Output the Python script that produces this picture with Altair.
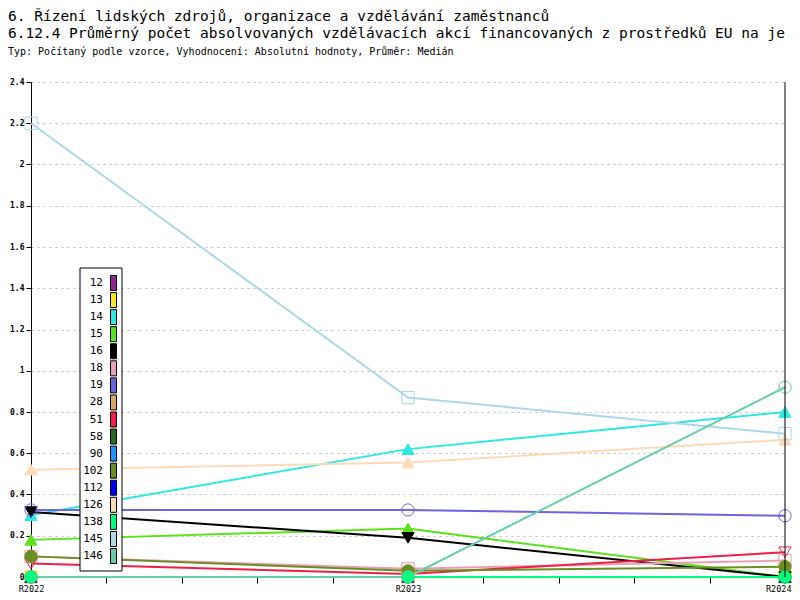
import altair as alt
import pandas as pd

# ---------------- data ----------------
years = ["R2022", "R2023", "R2024"]
series = ["12", "13", "14", "15", "16", "18", "19", "28", "51", "58",
          "90", "102", "112", "126", "138", "145", "146"]
colors = ["#912891", "#f2e81e", "#2fe8e0", "#5ce11c", "#000000", "#e8a0b4",
          "#6f63df", "#d4a862", "#f01e46", "#2a6a24", "#1e90ff", "#6b8e23",
          "#0000ff", "#ffdab9", "#00ff7f", "#add8e6", "#66cdaa"]
marker_shapes = ["diamond", "square", "triangle-up", "triangle-up", "triangle-down",
                 "square", "circle", "diamond", "triangle-down", "circle",
                 "diamond", "circle", "triangle-up", "triangle-up", "circle",
                 "square", "circle"]
marker_filled = [True, True, True, True, True, False, False, True, False, True,
                 True, True, True, True, True, False, False]

s12 = [0.0, 0.0, 0.0]
s13 = [0.0, 0.0, 0.0]
s14 = [0.30, 0.62, 0.80]
s15 = [0.18, 0.235, 0.0]
s16 = [0.315, 0.19, 0.0]
s18 = [0.10, 0.04, 0.08]
s19 = [0.325, 0.325, 0.297]
s28 = [0.0, 0.0, 0.0]
s51 = [0.065, 0.015, 0.12]
s58 = [0.0, 0.0, 0.0]
s90 = [0.0, 0.0, 0.0]
s102 = [0.10, 0.03, 0.05]
s112 = [0.0, 0.0, 0.0]
s126 = [0.52, 0.555, 0.665]
s138 = [0.0, 0.0, 0.0]
s145 = [2.2, 0.87, 0.695]
s146 = [0.0, 0.0, 0.92]

all_values = [s12, s13, s14, s15, s16, s18, s19, s28, s51, s58,
              s90, s102, s112, s126, s138, s145, s146]

y_ticks = [round(i * 0.2, 1) for i in range(13)]
x_ticks = [i / 5 for i in range(11)]

title1 = "6. Řízení lidských zdrojů, organizace a vzdělávání zaměstnanců"
title2 = "6.12.4 Průměrný počet absolvovaných vzdělávacích akcí financovaných z prostředků EU na je"
title3 = "Typ: Počítaný podle vzorce, Vyhodnocení: Absolutní hodnoty, Průměr: Medián"

# ---------------- tables ----------------
rows = []
for s, c, sh, fl, vals in zip(series, colors, marker_shapes, marker_filled, all_values):
    for i, v in enumerate(vals):
        rows.append({"series": s, "xi": i, "year": years[i], "value": v,
                     "stroke": c, "fill": c if fl else "transparent", "shape": sh})
df = pd.DataFrame(rows)
leg = pd.DataFrame({"series": series, "color": colors})

label_expr = " : ".join(
    [f"datum.value == {i} ? '{y}'" for i, y in enumerate(years)]) + " : ''"

mono = "DejaVu Sans Mono"
last = len(years) - 1

x_enc = alt.X("xi:Q", scale=alt.Scale(domain=[0, last], nice=False, zero=False),
              axis=alt.Axis(values=x_ticks, labelExpr=label_expr, title=None, grid=False,
                            domainColor="black", tickColor="black", tickSize=6,
                            labelPadding=1, labelFont=mono, labelFontSize=8.5,
                            labelColor="black", labelFlush=False, labelOverlap=False,
                            labelAlign={"condition": {"test": f"datum.value >= {last}",
                                                      "value": "right"},
                                        "value": "center"},
                            labelOffset={"condition": {"test": f"datum.value >= {last}",
                                                       "value": 6},
                                         "value": 0}))
y_scale = alt.Scale(domain=[0, 2.4], nice=False)
y_enc = alt.Y("value:Q", scale=y_scale,
              axis=alt.Axis(values=y_ticks, format="~g", title=None, grid=True,
                            gridDash=[2, 4], gridColor="#bbbbbb", domainColor="black",
                            tickColor="black", tickSize=5, labelPadding=2,
                            labelFont=mono, labelFontSize=8, labelFontWeight="bold",
                            labelColor="black"))

base = alt.Chart(df)
lines = base.mark_line(strokeWidth=2).encode(
    x=x_enc, y=y_enc,
    color=alt.Color("series:N", scale=alt.Scale(domain=series, range=colors), legend=None),
    order="xi:Q",
)
points = base.mark_point(size=150, opacity=1, strokeWidth=1, filled=False).encode(
    x="xi:Q", y=alt.Y("value:Q", scale=y_scale),
    stroke=alt.Stroke("stroke:N", scale=None),
    fill=alt.Fill("fill:N", scale=None),
    shape=alt.Shape("shape:N", scale=None),
)
right_edge = alt.Chart(pd.DataFrame({"a": [0]})).mark_rule(color="black", strokeWidth=1).encode(
    x=alt.datum(last), y=alt.datum(0), y2=alt.datum(2.4))

main = alt.layer(lines, points, right_edge)

# legend (labels left of swatches, as in the reference)
leg_y = alt.Y("series:N", sort=series,
              scale=alt.Scale(type="point", domain=series, range=[201, 474], padding=0),
              axis=None)
leg_box = alt.Chart(pd.DataFrame({"a": [0]})).mark_rect(
    fill="white", stroke="black", strokeWidth=1).encode(
    x=alt.value(49), x2=alt.value(91), y=alt.value(186), y2=alt.value(489))
leg_text = alt.Chart(leg).mark_text(align="right", baseline="middle", font=mono,
                                    fontSize=11, color="black").encode(
    x=alt.value(72), y=leg_y, text="series:N")
leg_sw = alt.Chart(leg).mark_point(shape="M-0.4,-1L0.4,-1L0.4,1L-0.4,1Z", size=225,
                                   filled=False, opacity=1, stroke="black",
                                   strokeWidth=1).encode(
    x=alt.value(82.5), y=leg_y, fill=alt.Fill("color:N", scale=None))
legend = alt.layer(leg_box, leg_text, leg_sw)

tdf = pd.DataFrame({"t1": [title1], "t2": [title2], "t3": [title3]})
t1 = alt.Chart(tdf).mark_text(align="left", baseline="alphabetic", font=mono, fontSize=14.5,
                              color="black").encode(x=alt.value(-23), y=alt.value(-61), text="t1:N")
t2 = alt.Chart(tdf).mark_text(align="left", baseline="alphabetic", font=mono, fontSize=14.5,
                              color="black").encode(x=alt.value(-23), y=alt.value(-44), text="t2:N")
t3 = alt.Chart(tdf).mark_text(align="left", baseline="alphabetic", font=mono, fontSize=10,
                              color="black").encode(x=alt.value(-23), y=alt.value(-27), text="t3:N")
titles = alt.layer(t1, t2, t3)

chart = alt.layer(main, legend, titles).resolve_scale(y="independent").properties(
    width=754, height=495,
    autosize=alt.AutoSizeParams(type="none"),
    padding={"left": 23, "top": 74, "right": 7, "bottom": 15},
    background="white",
).configure_view(stroke=None)

chart.save("out.html", embed_options={"renderer": "svg", "actions": False})
